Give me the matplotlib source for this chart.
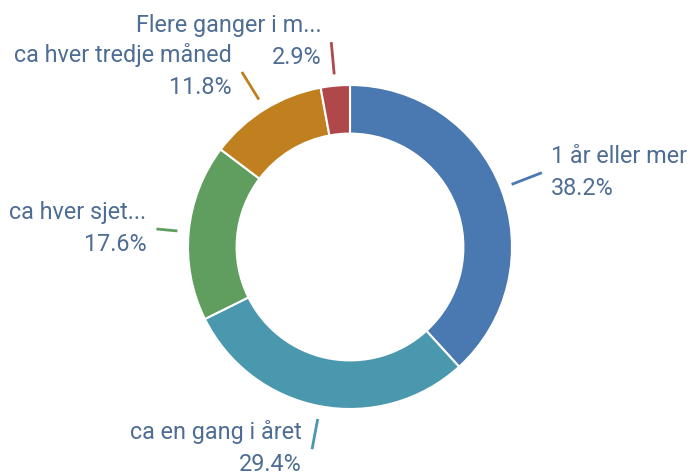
import matplotlib
matplotlib.use("Agg")
import matplotlib.pyplot as plt
import numpy as np

# ---- data ----
categories = ["1 år eller mer", "ca en gang i året", "ca hver sjet...",
              "ca hver tredje måned", "Flere ganger i m..."]
values = [38.2, 29.4, 17.6, 11.8, 2.9]
pct_labels = ["38.2%", "29.4%", "17.6%", "11.8%", "2.9%"]
colors = ["#4a78b0", "#4a98ae", "#5f9e5f", "#c08020", "#b0474b"]

# ---- layout (pixel space) ----
W, H = 690, 477
cx, cy_px = 350, 248
R = 162
ring_w = 0.30
leader_r1 = [1.07, 1.08, 1.07, 1.07, 1.07]
leader_r2 = [1.27, 1.27, 1.20, 1.27, 1.27]
txt_color = "#4e6d94"
fs = 16.8

plt.rcParams['font.family'] = ['Roboto', 'DejaVu Sans']
fig = plt.figure(figsize=(W / 100, H / 100), dpi=100)
ax = fig.add_axes([0, 0, 1, 1])
ax.set_xlim(0, W)
ax.set_ylim(0, H)
ax.axis("off")

cy = H - cy_px
wedges, _ = ax.pie(values, colors=colors, startangle=90, counterclock=False,
                   center=(cx, cy), radius=R,
                   wedgeprops=dict(width=R * ring_w, edgecolor="white", linewidth=1.5))
ax.set_xlim(0, W)
ax.set_ylim(0, H)
ax.set_aspect("equal")

for i, w in enumerate(wedges):
    ang = np.deg2rad((w.theta1 + w.theta2) / 2)
    c, s = np.cos(ang), np.sin(ang)
    x1, y1 = cx + R * leader_r1[i] * c, cy + R * leader_r1[i] * s
    x2, y2 = cx + R * leader_r2[i] * c, cy + R * leader_r2[i] * s
    ax.plot([x1, x2], [y1, y2], color=colors[i], lw=2, solid_capstyle="butt")
    right = c > 0
    ha = "left" if right else "right"
    tx = x2 + (9 if right else -10)
    ax.text(tx, y2 + 11, categories[i], ha=ha, va="baseline", fontsize=fs, color=txt_color)
    ax.text(tx, y2 - 21, pct_labels[i], ha=ha, va="baseline", fontsize=fs, color=txt_color)

fig.savefig("out.png", dpi=100, facecolor="white")
